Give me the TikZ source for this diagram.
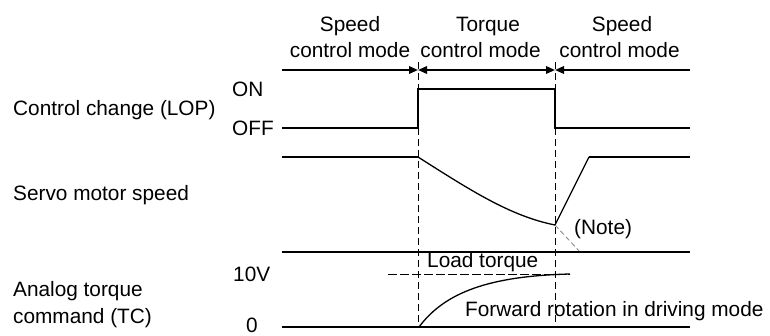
\documentclass[tikz,border=0pt]{standalone}
\usepackage{fontspec}
\setmainfont{Liberation Sans}
\usetikzlibrary{arrows.meta}
\begin{document}
\begin{tikzpicture}[x=1pt,y=-1pt,
  sig/.style={line width=1.8pt},
  crv/.style={line width=1.3pt},
  guide/.style={line width=0.9pt, dash pattern=on 7pt off 4pt},
  thinguide/.style={line width=0.8pt, dash pattern=on 9pt off 3pt},
  notedash/.style={gray, line width=0.8pt, dash pattern=on 5pt off 3pt},
  lbl/.style={inner sep=0pt, font=\fontsize{20.8}{25}\selectfont},
  tipR/.style={-{Triangle[length=9pt,width=7.5pt]}},
  tipB/.style={{Triangle[length=9pt,width=7.5pt]}-{Triangle[length=9pt,width=7.5pt]}},
  tipL/.style={{Triangle[length=9pt,width=7.5pt]}-}
]
\useasboundingbox (0,0) rectangle (770,335);

% mode labels
\node[lbl, anchor=base] (s1a) at (350,31.7) {Speed};
\node[lbl, anchor=base] (s1b) at (350,57) {control mode};
\node[lbl, anchor=base] (t1a) at (488,31.7) {Torque};
\node[lbl, anchor=base] (t1b) at (480.5,57) {control mode};
\node[lbl, anchor=base] (s2a) at (622,31.7) {Speed};
\node[lbl, anchor=base] (s2b) at (619.5,57) {control mode};

% mode arrows
\coordinate (tl) at (282,70);
\coordinate (tm1) at (418,70);
\coordinate (tm2) at (555,70);
\coordinate (tr) at (690,70);
\draw[sig, tipR] (tl) -- (tm1);
\draw[sig, tipB] (tm1) -- (tm2);
\draw[sig, tipL] (tm2) -- (tr);

% guide lines
\coordinate (g1t) at (418,62);
\coordinate (g1b) at (418,327);
\coordinate (g2t) at (555,62);
\coordinate (g2b) at (555,327);
\draw[guide] (g1t) -- (g1b);
\draw[guide] (g2t) -- (g2b);

% left labels
\node[lbl, anchor=base west] (lop) at (13,115) {Control change (LOP)};
\node[lbl, anchor=base west] (on) at (232,96) {ON};
\node[lbl, anchor=base west] (off) at (232,135) {OFF};
\node[lbl, anchor=base west] (spd) at (13,200) {Servo motor speed};
\node[lbl, anchor=base west] (tv) at (233,281.5) {10V};
\node[lbl, anchor=base west] (tc1) at (13,296.7) {Analog torque};
\node[lbl, anchor=base west] (tc2) at (13,323) {command (TC)};
\node[lbl, anchor=base west] (zero) at (246,332) {0};

% LOP signal
\coordinate (l0) at (282,128);
\coordinate (l1) at (418,128);
\coordinate (l2) at (418,89);
\coordinate (l3) at (555,89);
\coordinate (l4) at (555,128);
\coordinate (l5) at (690,128);
\draw[sig] (l0) -- (l1) -- (l2) -- (l3) -- (l4) -- (l5);

% speed signal
\coordinate (v0) at (282,157);
\coordinate (v1) at (418,157);
\coordinate (v2) at (555,225);
\coordinate (v3) at (589,157);
\coordinate (v4) at (690,157);
\coordinate (vn) at (580,252);
\draw[sig] (v0) -- (v1);
\draw[crv] (v1) .. controls (470,190) and (510,216) .. (v2) -- (v3);
\draw[sig] (v3) -- (v4);
\draw[notedash] (v2) -- (vn);
\node[lbl, anchor=base west] (note) at (574,234) {(Note)};

% torque command
\coordinate (c0) at (282,252);
\coordinate (c1) at (690,252);
\coordinate (z0) at (282,327);
\coordinate (z1) at (690,327);
\draw[sig] (c0) -- (c1);
\draw[sig] (z0) -- (z1);
\coordinate (lt0) at (388,274);
\coordinate (lt1) at (570,274);
\draw[thinguide] (lt0) -- (lt1);
\coordinate (k0) at (419,327);
\draw[crv] (k0) .. controls (445,292) and (490,276) .. (lt1);
\node[lbl, anchor=base west] (load) at (427,267.7) {Load torque};
\node[lbl, anchor=base west] (fwd) at (465,316) {Forward rotation in driving mode};
\end{tikzpicture}
\end{document}
